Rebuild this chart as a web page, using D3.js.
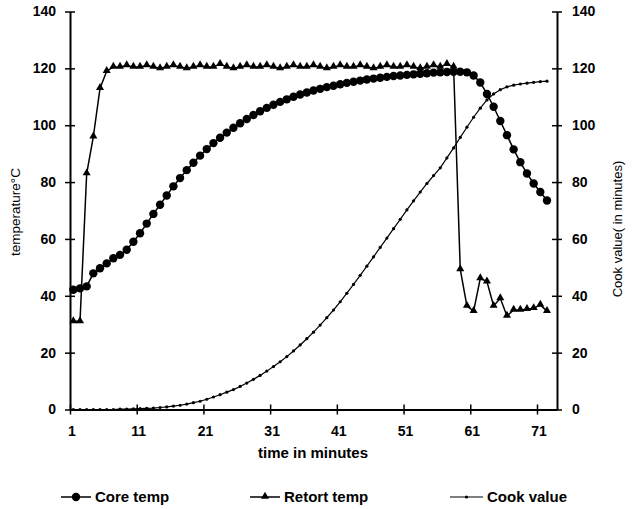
<!DOCTYPE html>
<html>
<head>
<meta charset="utf-8">
<script src="https://cdn.jsdelivr.net/npm/d3@7"></script>
<style>
  body { margin: 0; background: #fff; }
  svg { display: block; font-family: "Liberation Sans", Arial, sans-serif; }
  .tick text { font-size: 14px; font-weight: bold; fill: #000; }
</style>
</head>
<body>
<svg width="632" height="509"></svg>
<script>
// minutes 1..72, one reading per minute
var minutes = d3.range(1, 73);
var xTickLabels = ["1", "11", "21", "31", "41", "51", "61", "71"];
var yTicks = [0, 20, 40, 60, 80, 100, 120, 140];

var coreTemp = [
  42.1, 42.6, 43.3, 47.9, 49.7, 51.4, 53.2, 54.4, 56.2, 59.0,
  62.0, 65.4, 68.8, 72.0, 75.3, 78.5, 81.4, 84.2, 86.8, 89.3,
  91.6, 93.7, 95.6, 97.4, 99.1, 100.7, 102.2, 103.6, 104.9, 106.1,
  107.2, 108.2, 109.1, 110.0, 110.8, 111.5, 112.2, 112.8, 113.4, 113.9,
  114.4, 114.9, 115.3, 115.7, 116.1, 116.4, 116.7, 117.0, 117.3, 117.5,
  117.7, 117.9, 118.1, 118.3, 118.5, 118.6, 118.7, 118.8, 118.8, 118.6,
  117.5, 115.0, 111.0, 106.5, 101.5, 96.5, 91.5, 87.0, 83.0, 79.5,
  76.5, 73.5
];

var retortTemp = [
  31, 31, 83, 96, 113, 119, 120.5, 120.5, 121, 120.5,
  120.5, 121, 120.5, 120, 120.5, 121, 120.5, 120, 120.5, 121,
  120.5, 120.5, 121.5, 120.5, 120, 120.5, 121, 120.5, 120.5, 121,
  120.5, 120, 120.5, 121, 120.5, 120.5, 121, 120.5, 120, 120.5,
  121, 120.5, 120.5, 121, 120.5, 120, 120.5, 121, 120.5, 120.5,
  121, 120.5, 120, 120.5, 121, 120.5, 121.5, 120.5, 49.3, 36.4,
  34.6, 46.1, 45.0, 36.4, 39.1, 32.9, 35.0, 35.0, 35.3, 35.6,
  36.8, 34.6
];

var cookValue = [
  0, 0, 0, 0, 0, 0, 0, 0.1, 0.1, 0.2,
  0.3, 0.4, 0.5, 0.7, 0.9, 1.2, 1.5, 1.9, 2.4, 2.9,
  3.6, 4.4, 5.2, 6.1, 7.0, 8.1, 9.3, 10.6, 12.0, 13.5,
  15.1, 16.8, 18.6, 20.6, 22.7, 24.9, 27.2, 29.7, 32.3, 35.0,
  37.9, 40.9, 44.0, 47.2, 50.4, 53.7, 57.0, 60.3, 63.6, 66.9,
  70.2, 73.4, 76.5, 79.5, 82.3, 85.0, 88.5, 92.0, 95.7, 99.3,
  102.8, 106.0, 108.9, 111.0, 112.5, 113.5, 114.1, 114.5, 114.8, 115.1,
  115.3, 115.5
];

var plotLeft = 70, plotRight = 557, plotTop = 11.5, plotBottom = 409.5;

var svg = d3.select("svg");

// category axis: each minute sits in the middle of its slot
var x = d3.scaleLinear().domain([0.5, 73.5]).range([plotLeft, plotRight]);
var y = d3.scaleLinear().domain([0, 140]).range([plotBottom, plotTop]);
var y2 = d3.scaleLinear().domain([0, 140]).range([plotBottom, plotTop]);

function styleAxis(g) {
  g.select(".domain").attr("stroke", "#000").attr("stroke-width", 2);
  g.selectAll(".tick line").attr("stroke", "#000").attr("stroke-width", 1.5);
}

svg.append("g")
   .attr("transform", "translate(" + plotLeft + ",0)")
   .call(d3.axisLeft(y).tickValues(yTicks).tickSize(5).tickSizeOuter(0).tickPadding(9))
   .call(styleAxis)
   .call(g => g.selectAll(".tick line").attr("x2", -5).attr("x1", 5));

svg.append("g")
   .attr("transform", "translate(" + plotRight + ",0)")
   .call(d3.axisRight(y2).tickValues(yTicks).tickSize(5).tickSizeOuter(0).tickPadding(10))
   .call(styleAxis)
   .call(g => g.selectAll(".tick line").attr("x1", -5).attr("x2", 5));

svg.append("g")
   .attr("transform", "translate(0," + plotBottom + ")")
   .call(d3.axisBottom(x)
           .tickValues(xTickLabels.map(d => +d - 0.5))
           .tickFormat((d, i) => xTickLabels[i])
           .tickSize(5).tickSizeOuter(0).tickPadding(12))
   .call(styleAxis)
   .call(g => g.selectAll(".tick line").attr("y1", -5).attr("y2", 5))
   .call(g => g.selectAll(".tick text").attr("dx", 1.5));

// axis titles
svg.append("text")
   .attr("x", 313)
   .attr("y", 458)
   .attr("text-anchor", "middle")
   .style("font-size", "15px")
   .style("font-weight", "bold")
   .text("time in minutes");

svg.append("text")
   .attr("transform", "translate(20,212) rotate(-90)")
   .attr("text-anchor", "middle")
   .style("font-size", "13.5px")
   .text("temperature°C");

svg.append("text")
   .attr("transform", "translate(622,229) rotate(-90)")
   .attr("text-anchor", "middle")
   .style("font-size", "13px")
   .text("Cook value( in minutes)");

var line = d3.line().x((d, i) => x(minutes[i])).y(d => y(d));
var line2 = d3.line().x((d, i) => x(minutes[i])).y(d => y2(d));

// cook value: thin line with small dots
svg.append("path")
   .attr("d", line2(cookValue))
   .attr("fill", "none")
   .attr("stroke", "#000")
   .attr("stroke-width", 1.2);

svg.append("g")
   .selectAll("circle")
   .data(cookValue)
   .join("circle")
   .attr("cx", (d, i) => x(minutes[i]))
   .attr("cy", d => y2(d))
   .attr("r", 1.6)
   .attr("fill", "#000");

// retort temperature: line with triangles
svg.append("path")
   .attr("d", line(retortTemp))
   .attr("fill", "none")
   .attr("stroke", "#000")
   .attr("stroke-width", 1.5);

var tri = d3.symbol().type(d3.symbolTriangle).size(28);

svg.append("g")
   .selectAll("path")
   .data(retortTemp)
   .join("path")
   .attr("d", tri)
   .attr("transform", (d, i) => "translate(" + x(minutes[i]) + "," + (y(d) - 0.5) + ")")
   .attr("fill", "#000");

// core temperature: line with big dots
svg.append("path")
   .attr("d", line(coreTemp))
   .attr("fill", "none")
   .attr("stroke", "#000")
   .attr("stroke-width", 1.5);

svg.append("g")
   .selectAll("circle")
   .data(coreTemp)
   .join("circle")
   .attr("cx", (d, i) => x(minutes[i]))
   .attr("cy", d => y(d))
   .attr("r", 4.2)
   .attr("fill", "#000");

// legend
var legendY = 497;
var legend = svg.append("g").style("font-size", "15px").style("font-weight", "bold");

var items = [
  { name: "Core temp", x0: 61, x1: 91, mark: "circle" },
  { name: "Retort temp", x0: 250, x1: 280, mark: "triangle" },
  { name: "Cook value", x0: 450, x1: 483, mark: "dot" }
];

items.forEach(function(it) {
  var cx = (it.x0 + it.x1) / 2;
  legend.append("line")
        .attr("x1", it.x0).attr("x2", it.x1)
        .attr("y1", legendY).attr("y2", legendY)
        .attr("stroke", "#000")
        .attr("stroke-width", it.mark === "dot" ? 1.2 : 1.5);
  if (it.mark === "circle") {
    legend.append("circle").attr("cx", cx).attr("cy", legendY).attr("r", 4.2).attr("fill", "#000");
  } else if (it.mark === "triangle") {
    legend.append("path").attr("d", tri).attr("transform", "translate(" + cx + "," + (legendY - 0.5) + ")").attr("fill", "#000");
  } else {
    legend.append("circle").attr("cx", cx).attr("cy", legendY).attr("r", 1.6).attr("fill", "#000");
  }
  legend.append("text")
        .attr("x", it.x1 + 4)
        .attr("y", legendY + 5)
        .text(it.name);
});
</script>
</body>
</html>
